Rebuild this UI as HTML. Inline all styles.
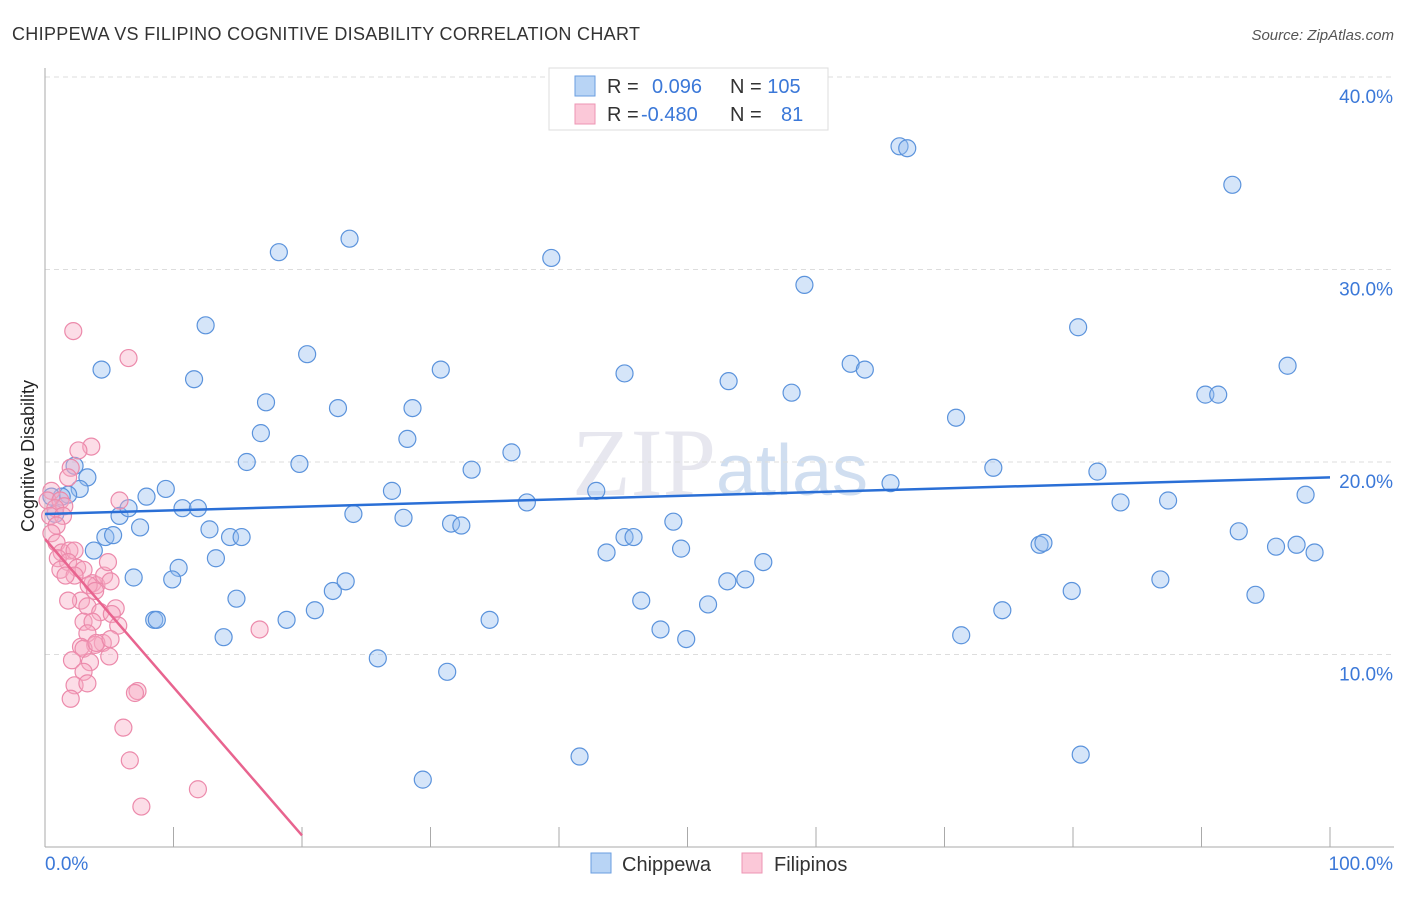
<!DOCTYPE html>
<html><head><meta charset="utf-8"><style>
body{margin:0;background:#fff;font-family:"Liberation Sans",sans-serif;}
</style></head><body>
<svg id="chart" width="1406" height="892" xmlns="http://www.w3.org/2000/svg">
<text x="12" y="40" font-size="18" fill="#333" textLength="628">CHIPPEWA VS FILIPINO COGNITIVE DISABILITY CORRELATION CHART</text>
<text x="1394" y="40" font-size="15" fill="#555" font-style="italic" text-anchor="end">Source: ZipAtlas.com</text>
<text x="720" y="495" font-size="96" fill="#ccd" opacity="0.45" text-anchor="middle" font-family="Liberation Serif">ZIP<tspan font-family="Liberation Sans" font-size="72" fill="#99b8e0">atlas</tspan></text>
<text transform="translate(34,456) rotate(-90)" font-size="18" fill="#222" text-anchor="middle">Cognitive Disability</text>
<g id="grid"></g><g id="axes"></g><g id="pts"></g><g id="trend"></g>
<g>
<rect x="549" y="68" width="279" height="62" fill="#fff" stroke="#ddd"/>
<rect x="575" y="76" width="20" height="20" fill="#b8d4f5" stroke="#6a9ee0"/>
<rect x="575" y="104" width="20" height="20" fill="#fbc8d8" stroke="#ee95b3"/>
<text x="607" y="93" font-size="20" fill="#333">R = <tspan fill="#3b78d8" x="652">0.096</tspan><tspan x="730">N = </tspan><tspan fill="#3b78d8">105</tspan></text>
<text x="607" y="121" font-size="20" fill="#333">R = <tspan fill="#3b78d8" x="641">-0.480</tspan><tspan x="730">N = </tspan><tspan fill="#3b78d8" x="781">81</tspan></text>
</g>
<g>
<rect x="591" y="853" width="20" height="20" fill="#b8d4f5" stroke="#6a9ee0"/>
<text x="622" y="871" font-size="20" fill="#333">Chippewa</text>
<rect x="742" y="853" width="20" height="20" fill="#fbc8d8" stroke="#ee95b3"/>
<text x="774" y="871" font-size="20" fill="#333">Filipinos</text>
</g>
</svg>
<script>
const yTicks=[10,20,30,40];
const xTickLabels=["0.0%","100.0%"];
const chippewaX=[4.4,18.2,23.7,12.5,11.6,20.4,17.2,16.8,15.7,19.8,9.4,7.9,10.7,11.9,12.8,14.4,15.3,13.3,14.9,13.9,10.4,9.9,6.9,8.5,8.7,7.4,5.8,6.5,4.7,5.3,3.8,3.3,2.7,2.3,1.8,1.3,0.8,0.5,18.8,21.0,22.4,23.4,25.9,29.4,31.3,34.6,27.9,27.0,24.0,22.8,28.2,28.6,30.8,31.6,32.4,33.2,36.3,37.5,39.4,42.9,43.7,45.1,45.8,45.1,46.4,47.9,48.9,49.5,49.9,51.6,53.1,54.5,53.2,55.9,58.1,59.1,62.7,63.8,65.8,66.5,67.1,70.9,71.3,73.8,74.5,77.4,77.7,79.9,80.4,80.6,81.9,83.7,86.8,87.4,90.3,91.3,92.4,92.9,94.2,95.8,96.7,97.4,98.1,98.8,41.6];
const chippewaY=[24.8,30.9,31.6,27.1,24.3,25.6,23.1,21.5,20.0,19.9,18.6,18.2,17.6,17.6,16.5,16.1,16.1,15.0,12.9,10.9,14.5,13.9,14.0,11.8,11.8,16.6,17.2,17.6,16.1,16.2,15.4,19.2,18.6,19.8,18.3,18.2,17.3,18.2,11.8,12.3,13.3,13.8,9.8,3.5,9.1,11.8,17.1,18.5,17.3,22.8,21.2,22.8,24.8,16.8,16.7,19.6,20.5,17.9,30.6,18.5,15.3,16.1,16.1,24.6,12.8,11.3,16.9,15.5,10.8,12.6,13.8,13.9,24.2,14.8,23.6,29.2,25.1,24.8,18.9,36.4,36.3,22.3,11.0,19.7,12.3,15.7,15.8,13.3,27.0,4.8,19.5,17.9,13.9,18.0,23.5,23.5,34.4,16.4,13.1,15.6,25.0,15.7,18.3,15.3,4.7];
const filipinosX=[2.2,6.5,3.6,2.6,2.0,1.8,0.5,0.2,1.2,1.5,0.8,0.4,1.4,0.9,0.5,0.9,1.3,1.9,2.3,1.0,1.8,2.5,3.0,1.2,2.3,1.6,3.7,4.0,4.6,4.9,5.8,3.4,3.9,5.1,2.8,1.8,3.3,4.3,5.5,5.2,3.0,3.7,3.3,4.5,3.9,2.8,3.0,5.0,5.7,3.5,2.1,3.0,2.3,3.3,2.0,7.2,7.0,6.1,6.6,7.5,11.9,16.7,4.0,5.1];
const filipinosY=[26.8,25.4,20.8,20.6,19.7,19.2,18.5,18.0,18.0,17.7,17.6,17.2,17.2,16.7,16.3,15.8,15.3,15.4,15.4,15.0,14.8,14.5,14.4,14.4,14.1,14.1,13.7,13.6,14.1,14.8,18.0,13.6,13.3,13.8,12.8,12.8,12.5,12.2,12.4,12.1,11.7,11.7,11.1,10.6,10.5,10.4,10.3,9.9,11.5,9.6,9.7,9.1,8.4,8.5,7.7,8.1,8.0,6.2,4.5,2.1,3.0,11.3,10.6,10.8];
const trendChippewa=[17.3,19.2];
const trendFilipinos=[[0,16.0],[20,0.6]];
const ns="http://www.w3.org/2000/svg";
const X=v=>45+v*12.85, Y=v=>847-v*19.25;
function mk(p,t,a){const e=document.createElementNS(ns,t);for(const k in a)e.setAttribute(k,a[k]);p.appendChild(e);return e;}
const grid=document.getElementById('grid'),axes=document.getElementById('axes'),pts=document.getElementById('pts'),tr=document.getElementById('trend');
yTicks.forEach(v=>{
 const l=mk(grid,'line',{x1:45,x2:1394,y1:Y(v),y2:Y(v),stroke:'#ddd','stroke-dasharray':'5,4'});
 
 
 const t=mk(axes,'text',{x:1393,y:Y(v)+26,'font-size':19,fill:'#3b78d8','text-anchor':'end'});t.textContent=v.toFixed(1)+'%';
 
 
});
const ya=mk(axes,'line',{x1:45,x2:45,y1:68,y2:847,stroke:'#aaa'});


const xa=mk(axes,'line',{x1:45,x2:1394,y1:847,y2:847,stroke:'#aaa'});


for(let i=1;i<=10;i++){const tk=mk(axes,'line',{x1:X(i*10),x2:X(i*10),y1:827,y2:847,stroke:'#aaa'});
 
 }
[[45,'start',0],[1393,'end',1]].forEach(([x,a,i])=>{const t=mk(axes,'text',{x:x,y:870,'font-size':19,fill:'#3b78d8','text-anchor':a});t.textContent=xTickLabels[i];
 
 });
chippewaX.forEach((v,i)=>{const c=mk(pts,'circle',{cx:X(v),cy:Y(chippewaY[i]),r:8.5,fill:'rgba(150,190,240,0.4)',stroke:'#5b93dc','stroke-width':1.2});
 
 });
filipinosX.forEach((v,i)=>{const c=mk(pts,'circle',{cx:X(v),cy:Y(filipinosY[i]),r:8.5,fill:'rgba(248,170,195,0.4)',stroke:'#ec8aab','stroke-width':1.2});
 
 });
const tb=mk(tr,'line',{x1:X(0),y1:Y(trendChippewa[0]),x2:X(100),y2:Y(trendChippewa[1]),stroke:'#2a6fd6','stroke-width':2.5});


const tp=mk(tr,'line',{x1:X(trendFilipinos[0][0]),y1:Y(trendFilipinos[0][1]),x2:X(trendFilipinos[1][0]),y2:Y(trendFilipinos[1][1]),stroke:'#e8648f','stroke-width':2.5});


</script>
</body></html>
